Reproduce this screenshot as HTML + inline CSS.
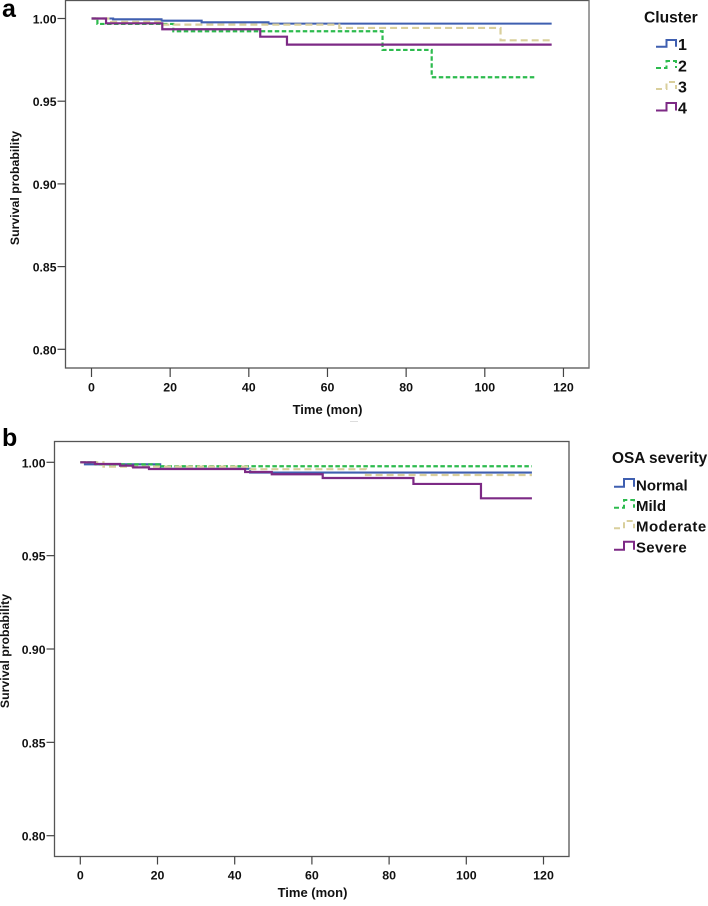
<!DOCTYPE html>
<html>
<head>
<meta charset="utf-8">
<title>Survival curves</title>
<style>
html,body{margin:0;padding:0;background:#fff;width:708px;height:906px;overflow:hidden}
svg{display:block;filter:blur(0.3px)}
text{font-family:"Liberation Sans",Arial,sans-serif;font-weight:bold;fill:#111}
.tick{font-size:12.4px;text-anchor:middle}
.ytick{font-size:12.2px;text-anchor:end}
.axt{font-size:13px;text-anchor:middle}
.ayt{font-size:12.3px;text-anchor:middle}
.leg{font-size:15px}
.pl{font-size:25px;fill:#000}
.frame{fill:none;stroke:#555;stroke-width:1.3}
.ax{stroke:#444;stroke-width:1.2;fill:none}
</style>
</head>
<body>
<svg id="chart" width="708" height="906" viewBox="0 0 708 906" xmlns="http://www.w3.org/2000/svg">
  <rect width="708" height="906" fill="#fff"/>

  <text class="pl" x="2" y="17">a</text>
  <rect class="frame" x="65.5" y="0.5" width="523.5" height="367.5"/>
  <line x1="589.2" y1="0" x2="589.2" y2="368" stroke="#8a8a8a" stroke-width="1"/>
  <g id="panelA"></g>
  <text class="axt" x="327.5" y="414">Time (mon)</text>
  <line x1="350" y1="421.5" x2="358" y2="421.5" stroke="#ddd" stroke-width="1"/>
  <text class="ayt" transform="translate(19,188) rotate(-90)">Survival probability</text>

  <text class="leg" x="644" y="22.5" style="font-size:15.6px">Cluster</text>
  <g>
    <path d="M656 46.7H666.5V40H676V46.7" fill="none" stroke="#3f5fb0" stroke-width="2"/>
    <text class="leg" x="678" y="50" style="font-size:16px">1</text>
  </g>
  <g>
    <path d="M656 68H666.5V61H676V68" fill="none" stroke="#2dbb4e" stroke-width="2" stroke-dasharray="5 3"/>
    <text class="leg" x="678" y="71.5" style="font-size:16px">2</text>
  </g>
  <g>
    <path d="M656 89H666.5V82H676V89" fill="none" stroke="#d9cf9c" stroke-width="2" stroke-dasharray="6 4"/>
    <text class="leg" x="678" y="92.5" style="font-size:16px">3</text>
  </g>
  <g>
    <path d="M656 110.5H666.5V103H676V110.5" fill="none" stroke="#7d2a85" stroke-width="2"/>
    <text class="leg" x="678" y="113.5" style="font-size:16px">4</text>
  </g>

  <text class="pl" x="2" y="446">b</text>
  <rect class="frame" x="54.5" y="441.5" width="514.5" height="415"/>
  <g id="panelB"></g>
  <text class="axt" x="312.5" y="897">Time (mon)</text>
  <text class="ayt" transform="translate(9,651) rotate(-90)">Survival probability</text>

  <text class="leg" x="612" y="463" style="font-size:15.4px">OSA severity</text>
  <g>
    <path d="M614 486.7H624V479H634V486.7" fill="none" stroke="#3f5fb0" stroke-width="2"/>
    <text class="leg" x="636" y="490.5">Normal</text>
  </g>
  <g>
    <path d="M614 507.7H624V500H634V507.7" fill="none" stroke="#2dbb4e" stroke-width="2" stroke-dasharray="5 3"/>
    <text class="leg" x="636" y="511">Mild</text>
  </g>
  <g>
    <path d="M614 528.3H624V521H634V528.3" fill="none" stroke="#d9cf9c" stroke-width="2" stroke-dasharray="6 4"/>
    <text class="leg" x="636" y="531.5" style="letter-spacing:0.5px">Moderate</text>
  </g>
  <g>
    <path d="M614 549.7H624V541.7H634V549.7" fill="none" stroke="#7d2a85" stroke-width="2"/>
    <text class="leg" x="636" y="552.5" style="letter-spacing:0.3px">Severe</text>
  </g>
</svg>

<script>
// Shared tick values
const xTickValues = [0, 20, 40, 60, 80, 100, 120];
const yTickValues = [1.00, 0.95, 0.90, 0.85, 0.80];

// Panel a: Cluster (step times in months, survival from that time onward)
const cluster1Times = [0, 5.5, 17.8, 28, 45, 117];
const cluster1Surv  = [1, 0.9995, 0.9987, 0.9977, 0.9969, 0.9969];
const cluster2Times = [0, 1.5, 20.8, 74, 86.5, 112.6];
const cluster2Surv  = [1, 0.9967, 0.9923, 0.981, 0.9645, 0.9645];
const cluster3Times = [0, 5, 18, 63, 104, 117];
const cluster3Surv  = [1, 0.998, 0.9963, 0.9943, 0.9868, 0.9868];
const cluster4Times = [0, 3.7, 18, 42.9, 49.7, 117];
const cluster4Surv  = [1, 0.9971, 0.9935, 0.989, 0.9842, 0.9842];

// Panel b: OSA severity
const normalTimes   = [0, 1.2, 20.7, 44, 117];
const normalSurv    = [1, 0.9989, 0.9965, 0.9945, 0.9945];
const mildTimes     = [0, 4, 21, 117];
const mildSurv      = [1, 0.9989, 0.9979, 0.9979];
const moderateTimes = [0, 6, 44, 74, 117];
const moderateSurv  = [1, 0.9977, 0.9963, 0.9932, 0.9932];
const severeTimes   = [0, 3.8, 10.3, 13.7, 17.8, 42.7, 49.6, 62.8, 86.3, 103.8, 117];
const severeSurv    = [1, 0.9991, 0.9982, 0.9973, 0.9964, 0.9948, 0.9936, 0.9916, 0.9884, 0.9807, 0.9807];

const NS = 'http://www.w3.org/2000/svg';
const blue = '#3f5fb0', green = '#2dbb4e', tan = '#d9cf9c', purple = '#7d2a85';

function stepPath(times, surv, xAxis, yAxis) {
  let d = 'M' + xAxis(times[0]).toFixed(2) + ' ' + yAxis(surv[0]).toFixed(2);
  for (let i = 1; i < times.length; i++) {
    d += 'H' + xAxis(times[i]).toFixed(2) + 'V' + yAxis(surv[i]).toFixed(2);
  }
  return d;
}

function drawSeries(group, name, times, surv, color, dash, width, xAxis, yAxis) {
  const p = document.createElementNS(NS, 'path');
  
  
  p.setAttribute('d', stepPath(times, surv, xAxis, yAxis));
  p.setAttribute('fill', 'none');
  p.setAttribute('stroke', color);
  p.setAttribute('stroke-width', width);
  if (dash) p.setAttribute('stroke-dasharray', dash);
  group.appendChild(p);
}

function drawAxes(group, xAxis, yAxis, frameLeft, frameBottom, yTickLen, xTickLen, xLabelY) {
  xTickValues.forEach(function (v) {
    const t = document.createElementNS(NS, 'line');
    
    
    t.setAttribute('class', 'ax');
    t.setAttribute('x1', xAxis(v));
    t.setAttribute('x2', xAxis(v));
    t.setAttribute('y1', frameBottom);
    t.setAttribute('y2', frameBottom + xTickLen);
    group.appendChild(t);
    const l = document.createElementNS(NS, 'text');
    
    
    l.setAttribute('class', 'tick');
    l.setAttribute('x', xAxis(v));
    l.setAttribute('y', xLabelY);
    l.textContent = String(v);
    group.appendChild(l);
  });
  yTickValues.forEach(function (v) {
    const t = document.createElementNS(NS, 'line');
    
    
    t.setAttribute('class', 'ax');
    t.setAttribute('x1', frameLeft - yTickLen);
    t.setAttribute('x2', frameLeft);
    t.setAttribute('y1', yAxis(v));
    t.setAttribute('y2', yAxis(v));
    group.appendChild(t);
    const l = document.createElementNS(NS, 'text');
    
    
    l.setAttribute('class', 'ytick');
    l.setAttribute('x', frameLeft - yTickLen - 1);
    l.setAttribute('y', yAxis(v) + 5);
    l.textContent = v.toFixed(2);
    group.appendChild(l);
  });
}

// Panel a axes
function xA(t) { return 91.5 + t * 3.933; }
function yA(s) { return 18.5 + (1 - s) * 1654; }
// Panel b axes
function xB(t) { return 80.3 + t * 3.86; }
function yB(s) { return 462.3 + (1 - s) * 1867; }

const gA = document.getElementById('panelA');
drawAxes(gA, xA, yA, 65.5, 368, 8, 9, 391.5);
drawSeries(gA, 'series-cluster-1', cluster1Times, cluster1Surv, blue, null, 2.1, xA, yA);
drawSeries(gA, 'series-cluster-2', cluster2Times, cluster2Surv, green, '4.5 2.5', 2.2, xA, yA);
drawSeries(gA, 'series-cluster-3', cluster3Times, cluster3Surv, tan, '7 4', 2.2, xA, yA);
drawSeries(gA, 'series-cluster-4', cluster4Times, cluster4Surv, purple, null, 2.2, xA, yA);

const gB = document.getElementById('panelB');
drawAxes(gB, xB, yB, 54.5, 856.5, 8, 8, 879.5);
drawSeries(gB, 'series-normal', normalTimes, normalSurv, blue, null, 2.1, xB, yB);
drawSeries(gB, 'series-mild', mildTimes, mildSurv, green, '4.5 2.5', 2.2, xB, yB);
drawSeries(gB, 'series-moderate', moderateTimes, moderateSurv, tan, '7 4', 2.2, xB, yB);
drawSeries(gB, 'series-severe', severeTimes, severeSurv, purple, null, 2.2, xB, yB);
</script>
</body>
</html>
